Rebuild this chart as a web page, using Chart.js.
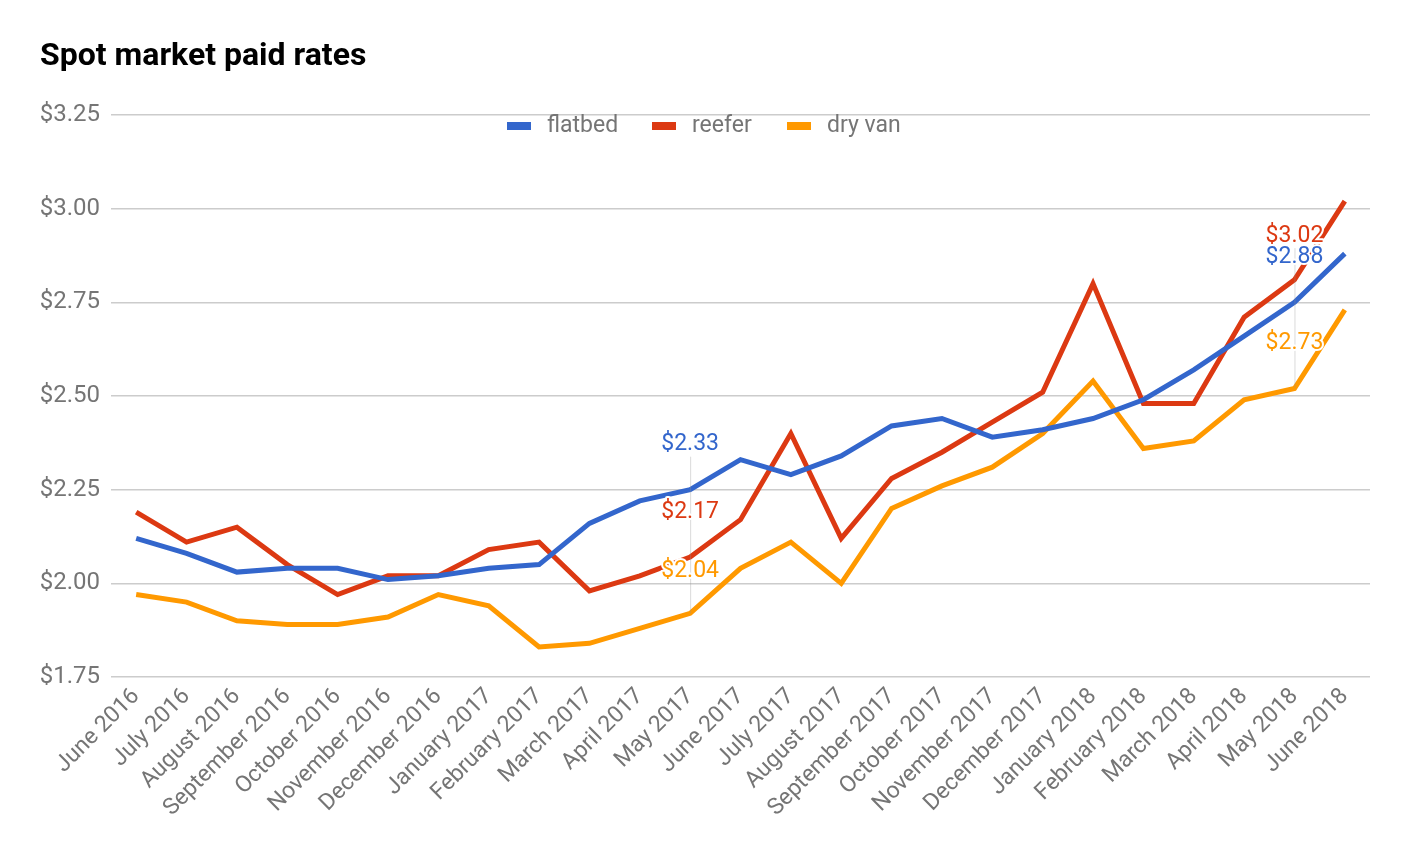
<!DOCTYPE html>
<html lang="en">
<head>
<meta charset="UTF-8">
<title>Spot market paid rates</title>
<script src="https://cdn.jsdelivr.net/npm/chart.js"></script>
<style>
  html, body { margin: 0; padding: 0; background: #fff; }
  #wrap { width: 1408px; height: 862px; }
</style>
</head>
<body>
<div id="wrap"><canvas id="rates"></canvas></div>
<script>
const months = ['June 2016', 'July 2016', 'August 2016', 'September 2016', 'October 2016',
  'November 2016', 'December 2016', 'January 2017', 'February 2017', 'March 2017',
  'April 2017', 'May 2017', 'June 2017', 'July 2017', 'August 2017', 'September 2017',
  'October 2017', 'November 2017', 'December 2017', 'January 2018', 'February 2018',
  'March 2018', 'April 2018', 'May 2018', 'June 2018'];

const flatbed = [2.12, 2.08, 2.03, 2.04, 2.04, 2.01, 2.02, 2.04, 2.05, 2.16, 2.22, 2.25, 2.33,
  2.29, 2.34, 2.42, 2.44, 2.39, 2.41, 2.44, 2.49, 2.57, 2.66, 2.75, 2.88];
const reefer = [2.19, 2.11, 2.15, 2.05, 1.97, 2.02, 2.02, 2.09, 2.11, 1.98, 2.02, 2.07, 2.17,
  2.40, 2.12, 2.28, 2.35, 2.43, 2.51, 2.80, 2.48, 2.48, 2.71, 2.81, 3.02];
const dryVan = [1.97, 1.95, 1.90, 1.89, 1.89, 1.91, 1.97, 1.94, 1.83, 1.84, 1.88, 1.92, 2.04,
  2.11, 2.00, 2.20, 2.26, 2.31, 2.40, 2.54, 2.36, 2.38, 2.49, 2.52, 2.73];

const seriesNames = ['flatbed', 'reefer', 'dry van'];
const yTicks = [1.75, 2.00, 2.25, 2.50, 2.75, 3.00, 3.25];

// annotated columns: the label sits on this column, showing the following month's value
const noteColumns = ['May 2017', 'May 2018'];

const colors = ['#3366cc', '#dc3912', '#ff9900'];
const grey = '#757575';
const font = 'Roboto, "Noto Sans", sans-serif';
// pixel nudges for each annotation text (per column, per series), to avoid overlap
const noteNudge = [[-15, -7, 3], [4, 35, 33]];

const extras = {
  id: 'extras',
  afterDraw(chart) {
    const ctx = chart.ctx;
    const x = chart.scales.x, y = chart.scales.y;
    ctx.save();
    // title
    ctx.fillStyle = '#000';
    ctx.font = 'bold 32px ' + font;
    ctx.textBaseline = 'middle';
    ctx.textAlign = 'left';
    ctx.fillText('Spot market paid rates', 40, 57);

    // legend
    ctx.font = '23px ' + font;
    const legendX = [507, 652, 787];
    seriesNames.forEach((name, i) => {
      ctx.fillStyle = colors[i];
      ctx.fillRect(legendX[i], 122, 24, 8);
      ctx.fillStyle = grey;
      ctx.fillText(name, legendX[i] + 40, 126);
    });

    // annotations
    ctx.font = '23px ' + font;
    ctx.textAlign = 'center';
    noteColumns.forEach((label, n) => {
      const idx = months.indexOf(label);
      const px = x.getPixelForValue(idx);
      const sets = chart.data.datasets;
      const vals = sets.map(d => d.data[idx + 1]);
      const ys = vals.map((v, i) => y.getPixelForValue(v) + noteNudge[n][i]);
      const lowest = Math.min(...sets.map(d => d.data[idx]));
      ctx.strokeStyle = 'rgba(150,150,150,0.35)';
      ctx.lineWidth = 1;
      ctx.beginPath();
      ctx.moveTo(px + 0.5, Math.min(...ys) + 12);
      ctx.lineTo(px + 0.5, y.getPixelForValue(lowest));
      ctx.stroke();
      vals.forEach((v, i) => {
        const t = '$' + v.toFixed(2);
        ctx.lineWidth = 4;
        ctx.strokeStyle = '#fff';
        ctx.lineJoin = 'round';
        ctx.strokeText(t, px, ys[i]);
        ctx.fillStyle = colors[i];
        ctx.fillText(t, px, ys[i]);
      });
    });
    ctx.restore();
  }
};

new Chart(document.getElementById('rates'), {
  type: 'line',
  data: {
    labels: months,
    datasets: [flatbed, reefer, dryVan].map((d, i) => ({
      label: seriesNames[i],
      data: d,
      borderColor: colors[i],
      backgroundColor: colors[i],
      borderWidth: 5,
      pointRadius: 0,
      tension: 0
    }))
  },
  options: {
    responsive: true,
    maintainAspectRatio: false,
    animation: false,
    layout: { padding: { top: 115, right: 38, left: 0, bottom: 0 } },
    plugins: { legend: { display: false }, tooltip: { enabled: false } },
    scales: {
      x: {
        offset: true,
        grid: { display: false, drawTicks: false },
        border: { display: false },
        afterFit(scale) { scale.height = 185; },
        ticks: {
          color: grey,
          font: { family: font, size: 23 },
          minRotation: 45,
          maxRotation: 45,
          autoSkip: false,
          padding: 6
        }
      },
      y: {
        min: 1.75,
        max: 3.25,
        afterFit(scale) { scale.width = 111; },
        afterBuildTicks(scale) { scale.ticks = yTicks.map(v => ({ value: v })); },
        grid: { color: '#cccccc', lineWidth: 1.5, drawTicks: false },
        border: { display: false },
        ticks: {
          color: grey,
          font: { family: font, size: 24 },
          padding: 11,
          callback: v => '$' + v.toFixed(2)
        }
      }
    }
  },
  plugins: [extras]
});
</script>
</body>
</html>
